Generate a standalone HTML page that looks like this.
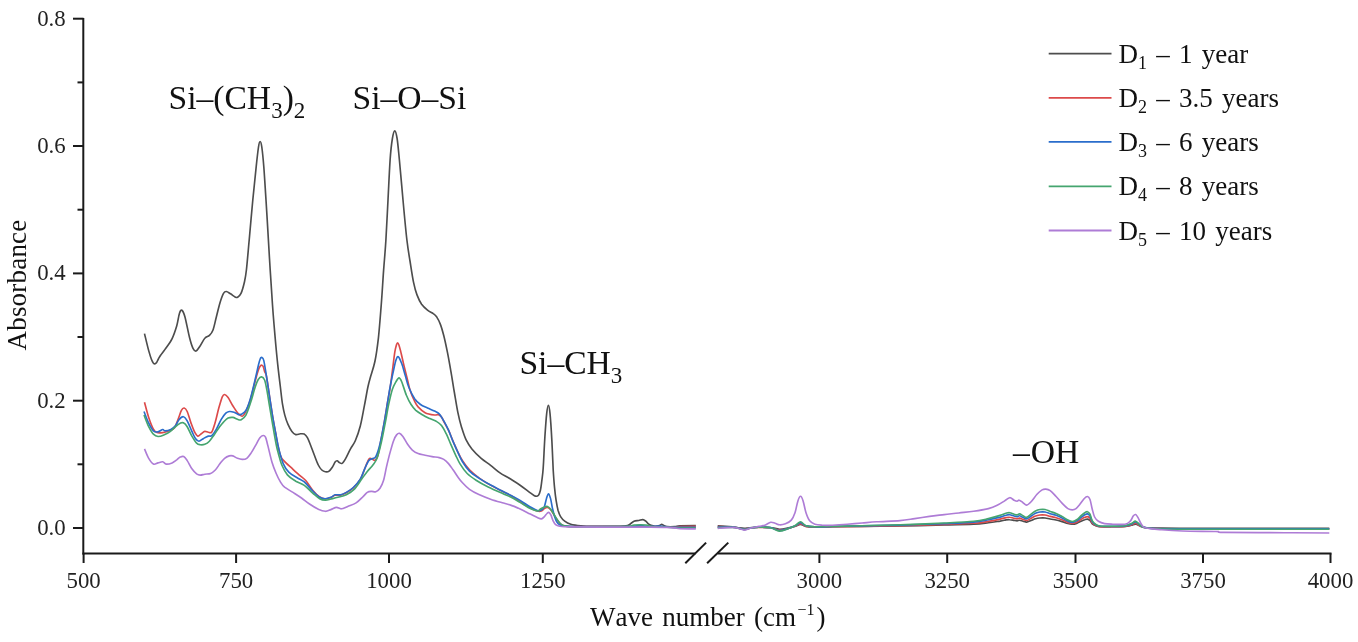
<!DOCTYPE html>
<html><head><meta charset="utf-8"><title>FTIR absorbance</title>
<style>
html,body{margin:0;padding:0;background:#fff;}
body{width:1358px;height:642px;overflow:hidden;}
svg{display:block;will-change:transform;font-family:"Liberation Serif",serif;font-kerning:none;}
.curves path{fill:none;stroke-width:1.65;stroke-linejoin:round;stroke-linecap:butt;}
.axes line{stroke:#1a1a1a;stroke-width:2;}
.tick text{font-size:22.8px;fill:#222;}
.ann text{font-size:33.6px;fill:#111;}
.leg text,.ttl text{font-size:27px;fill:#111;word-spacing:2.5px;}
</style></head><body>
<svg width="1358" height="642" viewBox="0 0 1358 642">
<rect width="1358" height="642" fill="#ffffff"/>
<g class="curves">
<path d="M144.5 333.6C145.2 336.4 147.5 346.3 148.7 350.6C149.9 354.9 150.7 357.4 151.5 359.5C152.3 361.6 152.8 362.3 153.3 363.0C153.9 363.7 154.3 363.9 154.8 363.9C155.3 363.9 155.8 363.6 156.4 362.8C157.0 362.0 157.7 360.2 158.4 359.0C159.1 357.8 159.5 356.9 160.6 355.3C161.7 353.7 163.1 352.1 165.0 349.4C166.9 346.7 170.1 342.8 172.0 338.9C173.9 335.0 175.4 330.3 176.7 326.0C177.9 321.7 178.6 315.8 179.5 313.2C180.4 310.6 181.0 309.6 181.9 310.2C182.8 310.8 183.6 312.1 184.9 316.7C186.2 321.3 188.2 332.5 189.6 337.8C190.9 343.1 191.9 346.1 193.0 348.3C194.1 350.5 194.9 351.4 196.1 351.0C197.3 350.6 198.6 348.0 200.1 345.9C201.6 343.8 203.2 339.9 204.8 338.2C206.4 336.4 208.1 336.7 209.4 335.4C210.8 334.1 211.7 333.4 212.9 330.3C214.1 327.2 215.2 321.3 216.4 316.7C217.6 312.1 218.8 306.6 220.0 302.7C221.2 298.8 222.4 295.3 223.5 293.4C224.6 291.5 225.1 291.4 226.3 291.5C227.5 291.6 229.0 292.9 230.5 293.8C232.0 294.7 233.9 296.3 235.1 296.9C236.3 297.5 236.5 297.9 237.5 297.3C238.5 296.7 239.8 296.0 241.0 293.4C242.2 290.8 243.6 285.6 244.5 281.7C245.4 277.8 245.6 276.9 246.4 270.0C247.2 263.1 248.1 251.7 249.2 240.0C250.3 228.3 251.6 212.2 252.8 200.0C254.0 187.8 255.2 175.5 256.2 166.7C257.1 157.9 257.9 151.2 258.5 147.0C259.1 142.8 259.6 141.5 260.1 141.5C260.7 141.5 261.2 142.8 261.8 147.0C262.4 151.2 263.1 157.9 263.8 166.7C264.5 175.5 265.2 187.8 266.0 200.0C266.8 212.2 267.7 228.3 268.4 240.0C269.1 251.7 269.5 259.2 270.2 270.0C270.9 280.8 271.6 292.5 272.5 305.0C273.4 317.5 274.9 335.0 275.8 345.0C276.7 355.0 277.1 358.4 277.8 365.2C278.5 371.9 279.4 379.0 280.2 385.5C281.0 392.0 281.7 399.3 282.5 404.2C283.3 409.1 283.9 411.7 284.8 415.1C285.7 418.5 286.8 421.7 288.0 424.4C289.2 427.1 290.6 429.8 291.9 431.5C293.2 433.2 294.3 434.2 295.7 434.6C297.1 435.0 299.0 433.9 300.4 433.8C301.8 433.7 303.1 433.5 304.3 434.1C305.5 434.8 306.4 435.9 307.4 437.7C308.4 439.5 309.4 442.2 310.5 445.0C311.6 447.8 312.8 451.2 314.1 454.5C315.4 457.8 317.0 462.4 318.3 465.0C319.6 467.6 320.6 468.9 321.8 470.0C323.0 471.1 324.1 471.6 325.3 471.8C326.5 472.0 327.6 472.2 328.8 471.4C330.0 470.6 331.2 468.8 332.3 467.2C333.4 465.6 334.3 463.1 335.1 462.0C335.9 460.9 336.5 460.7 337.2 460.8C337.9 460.9 338.5 462.1 339.3 462.5C340.1 462.9 341.1 464.0 342.1 463.4C343.2 462.8 344.2 461.1 345.6 458.7C347.0 456.3 348.9 451.9 350.5 448.9C352.1 445.9 353.8 444.3 355.4 440.5C357.0 436.7 358.8 431.8 360.3 426.0C361.8 420.2 363.1 412.2 364.4 405.7C365.7 399.2 366.9 391.6 367.9 387.0C368.9 382.4 369.0 382.1 370.2 377.9C371.4 373.6 373.5 368.1 374.9 361.5C376.3 354.9 377.3 347.5 378.4 338.1C379.4 328.8 380.3 316.7 381.2 305.4C382.1 294.1 382.8 281.3 383.6 270.4C384.4 259.5 385.2 251.7 385.9 240.0C386.6 228.3 387.3 213.3 388.0 200.0C388.7 186.7 389.4 170.2 390.1 160.0C390.8 149.8 391.6 143.4 392.4 138.5C393.2 133.6 394.0 130.8 394.8 130.8C395.6 130.8 396.3 133.6 397.1 138.5C397.9 143.4 398.4 149.8 399.4 160.0C400.4 170.2 401.8 186.7 403.0 200.0C404.2 213.3 405.7 229.8 406.9 240.0C408.1 250.2 408.9 254.0 410.0 261.0C411.1 268.0 412.3 276.5 413.5 282.1C414.7 287.8 415.6 291.2 417.0 294.9C418.4 298.6 419.9 301.8 421.6 304.3C423.4 306.8 425.6 308.6 427.5 310.1C429.4 311.7 431.8 312.4 433.3 313.6C434.9 314.8 435.6 315.4 436.8 317.1C438.0 318.9 439.1 321.0 440.3 324.1C441.5 327.2 442.6 331.1 443.8 335.8C445.0 340.5 446.2 346.3 447.4 352.1C448.6 357.9 449.6 364.2 450.8 370.8C452.0 377.4 453.1 385.0 454.3 392.0C455.5 399.0 456.7 406.9 457.9 412.7C459.1 418.5 460.0 422.2 461.4 426.7C462.8 431.2 464.2 435.9 466.0 439.6C467.8 443.3 469.4 445.8 471.9 448.9C474.4 452.0 478.1 455.6 481.2 458.3C484.3 461.0 487.5 462.9 490.6 465.3C493.7 467.7 496.9 470.7 500.0 472.9C503.1 475.1 505.9 476.2 509.3 478.3C512.6 480.4 516.6 482.8 520.1 485.2C523.6 487.6 527.8 491.0 530.3 492.8C532.8 494.6 533.9 495.7 535.3 496.1C536.7 496.5 537.6 496.3 538.5 495.3C539.4 494.3 539.8 492.8 540.4 490.3C541.0 487.8 541.4 483.8 541.9 480.1C542.4 476.4 542.7 475.2 543.2 468.0C543.7 460.8 544.3 445.8 544.9 436.7C545.5 427.6 546.1 418.6 546.7 413.4C547.3 408.1 547.9 405.2 548.4 405.2C548.9 405.2 549.4 407.4 550.0 413.4C550.6 419.4 551.4 432.0 551.9 441.4C552.4 450.8 552.8 462.2 553.2 470.0C553.7 477.8 554.1 483.1 554.6 488.2C555.1 493.3 555.5 496.7 556.1 500.4C556.7 504.1 557.4 507.8 558.1 510.5C558.9 513.2 559.5 514.8 560.6 516.6C561.7 518.4 563.0 519.8 564.7 521.1C566.4 522.4 568.1 523.4 570.8 524.2C573.5 525.0 577.1 525.4 580.9 525.7C584.7 526.1 587.5 526.2 593.5 526.3C599.5 526.4 611.4 526.4 616.8 526.3C622.2 526.2 623.9 526.1 626.0 525.8C628.1 525.5 627.9 525.5 629.2 524.7C630.5 524.0 632.4 522.0 634.0 521.3C635.6 520.6 637.3 520.8 638.8 520.5C640.3 520.2 641.6 519.5 642.8 519.6C644.0 519.7 644.9 520.5 645.8 521.2C646.7 521.9 647.5 523.2 648.4 523.9C649.3 524.6 649.9 525.0 651.0 525.4C652.1 525.8 653.6 526.2 655.0 526.2C656.4 526.2 658.4 525.9 659.5 525.6C660.6 525.3 661.0 524.4 661.7 524.4C662.4 524.4 662.9 525.2 663.8 525.6C664.7 526.0 665.1 526.4 667.0 526.6C668.9 526.8 672.8 526.7 675.0 526.6C677.2 526.5 676.5 526.0 680.0 525.8C683.5 525.6 693.2 525.6 695.8 525.6" stroke="#4d4d4d"/>
<path d="M717.7 525.8C720.2 526.0 729.0 526.6 732.4 526.9C735.8 527.2 736.3 527.5 738.3 527.7C740.3 528.0 742.2 528.4 744.2 528.4C746.2 528.4 747.5 527.9 750.0 527.7C752.5 527.5 755.4 527.2 758.9 527.1C762.4 527.1 767.3 527.1 770.7 527.5C774.1 527.8 776.5 529.2 779.5 529.2C782.5 529.3 785.7 528.4 788.4 527.9C791.1 527.4 793.7 526.7 795.7 526.2C797.7 525.6 798.9 524.3 800.6 524.4C802.3 524.4 803.6 526.0 806.0 526.4C808.4 526.8 810.5 526.9 814.9 526.9C819.3 527.0 824.6 526.9 832.5 526.8C840.4 526.7 850.8 526.6 862.0 526.4C873.2 526.3 886.3 526.2 900.0 526.0C913.7 525.7 931.9 525.3 944.2 525.0C956.5 524.7 966.2 524.5 973.6 524.1C981.0 523.8 984.0 523.2 988.4 522.7C992.8 522.2 997.2 521.5 1000.1 521.1C1003.0 520.6 1004.4 520.2 1006.0 519.9C1007.6 519.7 1008.4 519.6 1009.7 519.7C1011.1 519.7 1012.9 520.2 1014.1 520.4C1015.3 520.6 1016.2 520.8 1017.1 520.8C1018.0 520.8 1018.6 520.2 1019.6 520.3C1020.6 520.4 1021.8 520.9 1023.0 521.2C1024.2 521.5 1025.4 522.2 1026.7 522.1C1028.0 522.0 1029.6 521.0 1031.1 520.4C1032.6 519.9 1034.0 519.1 1035.5 518.7C1037.0 518.3 1038.3 518.1 1039.9 518.0C1041.5 517.9 1043.4 517.8 1045.1 518.0C1046.8 518.2 1048.4 518.7 1050.2 519.0C1052.0 519.4 1054.1 519.6 1056.1 520.0C1058.1 520.4 1060.0 521.0 1062.0 521.6C1064.0 522.2 1066.2 523.1 1067.9 523.5C1069.6 524.0 1070.8 524.3 1072.3 524.2C1073.8 524.2 1075.2 523.9 1076.7 523.4C1078.2 522.8 1079.8 521.8 1081.1 521.2C1082.4 520.6 1083.7 520.0 1084.8 519.7C1085.9 519.3 1086.6 519.0 1087.5 519.1C1088.4 519.3 1089.2 519.7 1090.0 520.4C1090.8 521.2 1091.3 523.0 1092.3 523.9C1093.3 524.8 1094.6 525.3 1095.9 525.8C1097.2 526.2 1097.5 526.4 1100.0 526.6C1102.5 526.7 1106.5 526.8 1110.7 526.7C1114.9 526.7 1121.6 526.7 1125.0 526.4C1128.4 526.2 1129.4 525.7 1131.2 525.3C1133.0 524.9 1134.2 523.9 1135.7 524.1C1137.2 524.2 1138.8 525.6 1140.4 526.2C1142.0 526.8 1141.9 527.1 1145.5 527.5C1149.1 527.8 1152.4 528.0 1161.9 528.1C1171.5 528.3 1174.9 528.2 1202.8 528.2C1230.7 528.3 1308.2 528.2 1329.3 528.2" stroke="#4d4d4d"/>
<path d="M144.5 402.2C145.2 404.7 147.2 412.9 148.7 417.4C150.2 421.9 152.0 426.6 153.4 429.1C154.8 431.6 155.4 432.0 156.9 432.6C158.4 433.2 160.8 432.9 162.7 432.6C164.6 432.3 166.6 431.7 168.6 430.9C170.6 430.1 172.8 429.8 174.4 427.9C176.0 426.0 176.7 422.6 177.9 419.7C179.1 416.8 180.4 412.3 181.4 410.4C182.4 408.4 183.2 407.8 184.2 408.0C185.2 408.2 186.1 409.1 187.2 411.5C188.3 413.9 189.5 418.8 190.7 422.1C191.9 425.4 193.1 429.1 194.3 431.4C195.5 433.7 196.6 435.7 197.8 436.1C199.0 436.5 200.1 434.5 201.3 433.7C202.5 432.9 203.6 431.6 204.8 431.4C206.0 431.2 207.1 432.2 208.3 432.3C209.5 432.4 210.6 433.6 211.8 431.9C213.0 430.2 214.1 426.1 215.3 422.1C216.5 418.1 217.6 412.2 218.8 408.0C220.0 403.8 221.3 399.1 222.3 396.8C223.3 394.6 223.6 394.4 224.6 394.5C225.6 394.6 226.7 395.6 228.1 397.5C229.5 399.4 231.2 403.2 232.8 405.7C234.4 408.2 235.9 410.9 237.5 412.7C239.1 414.4 240.7 416.4 242.1 416.2C243.5 416.0 244.5 414.4 245.9 411.5C247.3 408.6 249.1 404.1 250.6 399.0C252.1 393.9 253.9 385.9 255.2 381.0C256.5 376.1 257.5 372.4 258.4 369.9C259.3 367.4 259.8 366.8 260.4 366.0C261.0 365.2 261.3 365.1 261.8 365.2C262.3 365.3 262.7 365.4 263.2 366.5C263.7 367.6 264.1 369.9 264.6 371.5C265.1 373.1 265.6 372.1 266.4 376.0C267.2 379.9 268.3 388.3 269.3 394.8C270.3 401.3 271.4 408.9 272.4 415.1C273.4 421.3 274.6 427.2 275.5 432.2C276.4 437.2 277.1 441.4 277.8 445.0C278.6 448.6 279.1 451.5 280.0 454.0C280.9 456.5 281.0 457.6 283.2 460.1C285.4 462.7 290.2 466.7 293.0 469.3C295.8 471.9 297.9 473.7 300.0 475.6C302.1 477.5 303.6 478.1 305.7 480.5C307.8 482.9 310.4 487.6 312.7 490.3C315.0 493.1 317.6 495.6 319.7 497.0C321.8 498.4 323.4 498.9 325.3 499.0C327.2 499.1 329.3 498.1 330.9 497.5C332.5 496.9 333.5 495.6 335.1 495.2C336.7 494.8 338.8 495.6 340.7 495.2C342.6 494.8 344.2 494.0 346.3 492.8C348.4 491.6 351.0 490.1 353.3 487.9C355.6 485.7 358.4 482.6 360.3 479.5C362.2 476.4 363.1 472.7 364.5 469.3C365.9 465.9 367.5 461.2 368.7 459.4C369.9 457.6 370.5 458.5 371.6 458.7C372.7 458.9 374.0 460.9 375.1 460.3C376.2 459.7 377.1 458.1 378.0 455.0C378.9 451.9 379.6 447.0 380.7 441.5C381.8 436.0 383.1 428.9 384.3 422.1C385.5 415.4 386.8 406.7 387.8 401.0C388.8 395.3 389.3 393.0 390.1 388.0C390.9 383.0 391.6 376.8 392.4 370.8C393.2 364.8 394.1 356.4 394.8 352.1C395.5 347.8 395.9 346.6 396.4 345.0C396.9 343.4 397.2 342.8 397.6 342.8C398.0 342.8 398.4 343.6 398.9 345.0C399.4 346.4 399.7 347.5 400.6 351.0C401.5 354.5 402.9 361.3 404.1 366.2C405.3 371.1 406.6 376.2 407.6 380.2C408.6 384.2 408.9 386.7 410.0 390.0C411.1 393.3 412.6 397.2 414.0 400.0C415.4 402.8 416.2 404.8 418.1 406.9C420.0 409.0 422.4 411.3 425.1 412.7C427.8 414.1 432.3 414.7 434.5 415.0C436.7 415.3 437.3 414.3 438.5 414.6C439.7 414.9 440.6 415.9 441.5 417.0C442.4 418.1 442.6 419.3 443.8 421.5C445.0 423.7 446.9 426.9 448.5 430.2C450.1 433.5 451.6 437.9 453.2 441.5C454.8 445.1 456.3 448.8 457.9 452.0C459.4 455.2 460.6 457.8 462.5 460.8C464.4 463.8 466.8 467.0 469.5 469.8C472.2 472.6 475.4 475.2 478.9 477.8C482.4 480.4 486.7 482.9 490.6 485.1C494.5 487.3 498.7 489.4 502.2 491.2C505.7 493.0 508.6 494.2 511.6 496.0C514.6 497.8 517.0 499.8 520.1 501.8C523.2 503.8 527.4 506.5 530.3 508.0C533.2 509.5 535.4 510.5 537.3 511.0C539.1 511.5 540.2 511.4 541.4 511.0C542.6 510.6 543.4 509.1 544.4 508.5C545.4 507.9 546.5 507.3 547.5 507.5C548.5 507.7 549.5 508.4 550.5 509.5C551.5 510.6 552.5 512.4 553.5 514.0C554.5 515.6 555.6 517.5 556.6 519.0C557.6 520.5 558.6 521.9 559.6 523.0C560.6 524.1 561.0 524.8 562.7 525.4C564.4 526.0 563.8 526.3 570.0 526.5C576.2 526.7 586.7 526.5 600.0 526.5C613.3 526.5 638.8 526.5 650.0 526.5C661.2 526.5 662.8 526.7 667.0 526.8C671.2 526.9 672.8 527.2 675.0 527.2C677.2 527.2 676.5 526.7 680.0 526.6C683.5 526.5 693.2 526.4 695.8 526.4" stroke="#DC4A4A"/>
<path d="M717.7 526.6C720.2 526.7 729.0 526.9 732.4 527.2C735.8 527.4 736.3 527.8 738.3 528.1C740.3 528.4 742.2 529.1 744.2 529.1C746.2 529.1 747.5 528.4 750.0 528.1C752.5 527.8 755.4 527.4 758.9 527.3C762.4 527.3 767.3 527.3 770.7 527.8C774.1 528.2 776.5 530.0 779.5 530.1C782.5 530.2 785.7 529.1 788.4 528.4C791.1 527.7 793.7 526.8 795.7 526.0C797.7 525.2 798.9 523.6 800.6 523.6C802.3 523.7 803.6 525.8 806.0 526.4C808.4 526.9 810.5 527.0 814.9 527.1C819.3 527.1 824.6 527.0 832.5 526.8C840.4 526.7 850.8 526.5 862.0 526.4C873.2 526.2 886.3 526.0 900.0 525.7C913.7 525.4 931.9 524.9 944.2 524.5C956.5 524.1 966.2 523.8 973.6 523.3C981.0 522.8 984.0 522.1 988.4 521.4C992.8 520.7 997.2 519.8 1000.1 519.1C1003.0 518.5 1004.4 517.9 1006.0 517.6C1007.6 517.3 1008.4 517.1 1009.7 517.3C1011.1 517.4 1012.9 518.0 1014.1 518.3C1015.3 518.6 1016.2 518.8 1017.1 518.8C1018.0 518.8 1018.6 518.0 1019.6 518.1C1020.6 518.2 1021.8 518.9 1023.0 519.4C1024.2 519.8 1025.4 520.7 1026.7 520.5C1028.0 520.4 1029.6 519.1 1031.1 518.3C1032.6 517.5 1034.0 516.5 1035.5 516.0C1037.0 515.4 1038.3 515.2 1039.9 515.0C1041.5 514.8 1043.4 514.8 1045.1 515.0C1046.8 515.2 1048.4 516.0 1050.2 516.4C1052.0 516.9 1054.1 517.2 1056.1 517.7C1058.1 518.3 1060.0 519.1 1062.0 519.8C1064.0 520.6 1066.2 521.8 1067.9 522.4C1069.6 523.0 1070.8 523.4 1072.3 523.4C1073.8 523.4 1075.2 522.9 1076.7 522.2C1078.2 521.5 1079.8 520.2 1081.1 519.4C1082.4 518.5 1083.7 517.7 1084.8 517.3C1085.9 516.8 1086.6 516.4 1087.5 516.6C1088.4 516.7 1089.2 517.2 1090.0 518.3C1090.8 519.4 1091.3 521.7 1092.3 522.9C1093.3 524.1 1094.6 524.9 1095.9 525.5C1097.2 526.1 1097.5 526.4 1100.0 526.6C1102.5 526.8 1106.5 526.8 1110.7 526.8C1114.9 526.7 1121.6 526.7 1125.0 526.4C1128.4 526.0 1129.4 525.4 1131.2 524.9C1133.0 524.4 1134.2 523.0 1135.7 523.2C1137.2 523.4 1138.8 525.3 1140.4 526.1C1142.0 526.8 1141.9 527.3 1145.5 527.8C1149.1 528.2 1152.4 528.5 1161.9 528.7C1171.5 528.8 1174.9 528.8 1202.8 528.8C1230.7 528.8 1308.2 528.8 1329.3 528.8" stroke="#DC4A4A"/>
<path d="M144.0 411.5C144.8 413.4 147.1 420.0 148.7 423.2C150.3 426.4 151.8 429.4 153.4 430.9C155.0 432.3 156.4 432.1 158.0 431.9C159.6 431.7 161.5 429.7 162.7 429.5C163.9 429.3 163.6 430.9 165.0 430.9C166.4 430.9 169.1 430.4 170.9 429.5C172.7 428.6 174.2 427.2 175.6 425.6C176.9 424.0 177.7 421.2 179.0 419.7C180.3 418.2 181.9 416.5 183.3 416.7C184.7 416.9 185.8 418.4 187.2 420.9C188.6 423.3 190.5 428.5 191.9 431.4C193.3 434.3 194.2 436.8 195.4 438.4C196.6 440.0 197.5 441.2 198.9 441.2C200.3 441.2 202.0 439.2 203.6 438.4C205.2 437.5 206.9 436.6 208.3 436.1C209.7 435.6 210.5 436.8 211.8 435.6C213.2 434.4 214.9 431.8 216.4 429.1C217.9 426.5 219.5 422.4 221.1 419.7C222.7 417.0 224.4 414.6 225.8 413.2C227.2 411.8 227.9 411.7 229.3 411.5C230.7 411.3 232.4 411.7 234.0 412.2C235.6 412.7 237.4 414.2 238.6 414.6C239.8 415.0 240.0 415.0 241.2 414.3C242.4 413.6 244.3 413.1 245.9 410.4C247.5 407.7 249.1 403.2 250.6 398.0C252.1 392.8 253.9 384.8 255.2 379.3C256.5 373.8 257.6 368.6 258.4 365.2C259.2 361.8 259.6 360.3 260.2 359.0C260.8 357.7 261.2 357.2 261.8 357.5C262.4 357.8 263.1 357.8 263.8 360.6C264.5 363.5 265.3 368.9 266.2 374.6C267.1 380.3 268.3 388.1 269.3 394.8C270.3 401.6 271.4 408.9 272.4 415.1C273.4 421.3 274.4 426.4 275.5 432.2C276.6 437.9 277.7 444.4 279.0 449.6C280.3 454.8 281.6 459.9 283.2 463.6C284.8 467.4 286.5 469.8 288.8 472.1C291.1 474.5 294.6 476.1 297.2 477.7C299.8 479.3 301.7 479.7 304.3 481.9C306.9 484.1 310.1 488.4 312.7 491.0C315.3 493.6 317.6 496.0 319.7 497.3C321.8 498.6 323.4 498.7 325.3 498.7C327.2 498.7 329.3 497.9 330.9 497.3C332.5 496.7 333.5 495.2 335.1 494.8C336.7 494.4 338.8 495.2 340.7 494.8C342.6 494.4 344.2 493.6 346.3 492.4C348.4 491.2 351.0 489.7 353.3 487.5C355.6 485.3 358.4 482.1 360.3 479.1C362.2 476.1 363.1 472.4 364.5 469.3C365.9 466.2 367.4 462.6 368.7 460.8C370.0 459.0 371.0 459.4 372.2 458.7C373.4 458.0 374.5 459.1 375.8 456.6C377.1 454.2 378.6 449.8 380.0 444.0C381.4 438.2 383.0 429.3 384.3 422.1C385.6 414.9 386.8 406.9 387.8 401.0C388.8 395.1 389.2 391.6 390.1 387.0C391.0 382.4 391.9 377.6 392.9 373.2C393.9 368.8 395.0 363.0 395.9 360.3C396.8 357.6 397.3 356.2 398.3 356.8C399.3 357.4 400.6 360.7 401.8 363.8C403.0 366.9 404.1 371.6 405.3 375.5C406.5 379.4 407.2 383.3 408.8 387.2C410.4 391.1 412.7 395.8 414.6 398.7C416.6 401.6 418.4 402.9 420.5 404.5C422.6 406.1 425.2 406.9 427.5 408.0C429.8 409.1 432.6 410.1 434.5 411.1C436.4 412.1 437.6 412.3 439.2 413.9C440.8 415.5 442.2 418.2 443.8 420.9C445.4 423.6 446.9 426.7 448.5 430.2C450.1 433.7 451.6 438.2 453.2 441.9C454.8 445.6 456.3 449.1 457.9 452.4C459.4 455.7 460.6 458.7 462.5 461.8C464.4 464.9 466.8 468.4 469.5 471.1C472.2 473.8 475.4 475.8 478.9 478.1C482.4 480.4 486.7 483.0 490.6 485.1C494.5 487.2 498.7 489.2 502.2 491.0C505.7 492.8 508.6 494.1 511.6 495.7C514.6 497.3 517.0 498.5 520.1 500.4C523.2 502.3 527.4 505.3 530.3 507.0C533.2 508.7 535.4 510.0 537.3 510.5C539.1 511.0 540.2 510.7 541.4 510.0C542.6 509.3 543.5 508.4 544.4 506.5C545.2 504.6 545.8 500.5 546.5 498.4C547.2 496.3 547.8 493.8 548.5 493.8C549.2 493.8 549.8 495.9 550.5 498.4C551.2 500.8 551.8 505.5 552.5 508.5C553.2 511.5 553.9 514.4 554.6 516.6C555.3 518.8 555.8 520.2 556.6 521.6C557.4 523.0 558.2 524.0 559.6 524.7C561.0 525.4 562.1 525.6 564.7 525.9C567.3 526.2 569.1 526.4 575.0 526.5C580.9 526.6 590.5 526.6 600.0 526.6C609.5 526.6 625.3 526.6 632.0 526.4C638.7 526.2 637.5 525.3 640.0 525.3C642.5 525.3 643.4 526.2 647.0 526.4C650.6 526.5 658.4 526.1 661.7 526.2C665.0 526.3 664.8 526.8 667.0 527.0C669.2 527.2 672.8 527.4 675.0 527.4C677.2 527.4 676.5 527.2 680.0 527.2C683.5 527.2 693.2 527.2 695.8 527.2" stroke="#2A6DCB"/>
<path d="M717.7 527.1C720.2 527.1 729.0 527.0 732.4 527.1C735.8 527.3 736.3 527.7 738.3 528.1C740.3 528.4 742.2 529.3 744.2 529.3C746.2 529.3 747.5 528.4 750.0 528.1C752.5 527.7 755.4 527.2 758.9 527.1C762.4 527.0 767.3 527.1 770.7 527.6C774.1 528.2 776.5 530.4 779.5 530.6C782.5 530.7 785.7 529.2 788.4 528.4C791.1 527.6 793.7 526.5 795.7 525.5C797.7 524.5 798.9 522.5 800.6 522.6C802.3 522.6 803.6 525.2 806.0 525.9C808.4 526.6 810.5 526.7 814.9 526.8C819.3 526.9 824.6 526.7 832.5 526.5C840.4 526.4 850.8 526.1 862.0 525.9C873.2 525.7 886.3 525.5 900.0 525.1C913.7 524.7 931.9 524.1 944.2 523.6C956.5 523.1 966.2 522.8 973.6 522.1C981.0 521.5 984.0 520.6 988.4 519.8C992.8 519.0 997.2 517.8 1000.1 517.1C1003.0 516.3 1004.4 515.5 1006.0 515.2C1007.6 514.8 1008.4 514.6 1009.7 514.7C1011.1 514.9 1012.9 515.7 1014.1 516.0C1015.3 516.3 1016.2 516.7 1017.1 516.6C1018.0 516.6 1018.6 515.6 1019.6 515.8C1020.6 515.9 1021.8 516.8 1023.0 517.3C1024.2 517.8 1025.4 519.0 1026.7 518.8C1028.0 518.6 1029.6 517.0 1031.1 516.0C1032.6 515.1 1034.0 513.9 1035.5 513.2C1037.0 512.5 1038.3 512.2 1039.9 512.0C1041.5 511.8 1043.4 511.7 1045.1 512.0C1046.8 512.3 1048.4 513.1 1050.2 513.7C1052.0 514.3 1054.1 514.6 1056.1 515.3C1058.1 516.0 1060.0 517.0 1062.0 517.9C1064.0 518.9 1066.2 520.4 1067.9 521.1C1069.6 521.8 1070.8 522.3 1072.3 522.3C1073.8 522.3 1075.2 521.7 1076.7 520.8C1078.2 520.0 1079.8 518.3 1081.1 517.3C1082.4 516.3 1083.7 515.3 1084.8 514.7C1085.9 514.2 1086.6 513.7 1087.5 513.9C1088.4 514.1 1089.2 514.7 1090.0 516.0C1090.8 517.3 1091.3 520.2 1092.3 521.7C1093.3 523.2 1094.6 524.1 1095.9 524.9C1097.2 525.6 1097.5 525.9 1100.0 526.2C1102.5 526.4 1106.5 526.5 1110.7 526.4C1114.9 526.4 1121.6 526.3 1125.0 525.9C1128.4 525.5 1129.4 524.7 1131.2 524.1C1133.0 523.5 1134.2 521.8 1135.7 522.0C1137.2 522.3 1138.8 524.6 1140.4 525.6C1142.0 526.5 1141.9 527.1 1145.5 527.6C1149.1 528.2 1152.4 528.5 1161.9 528.7C1171.5 529.0 1174.9 528.9 1202.8 528.9C1230.7 528.9 1308.2 528.9 1329.3 528.9" stroke="#2A6DCB"/>
<path d="M144.0 415.0C144.8 416.9 147.1 423.5 148.7 426.7C150.3 429.9 151.8 432.6 153.4 434.2C155.0 435.8 156.2 436.4 158.0 436.5C159.8 436.6 162.0 435.7 163.9 434.9C165.8 434.1 167.8 433.3 169.7 431.9C171.6 430.5 173.8 428.1 175.6 426.7C177.3 425.2 178.9 423.8 180.2 423.2C181.5 422.6 182.1 422.2 183.3 422.8C184.5 423.4 185.8 424.5 187.2 426.7C188.6 428.9 190.3 433.4 191.9 436.1C193.5 438.8 195.2 441.7 196.6 443.1C198.0 444.5 198.7 444.5 200.1 444.7C201.5 444.9 203.2 444.9 204.8 444.3C206.4 443.7 207.9 442.8 209.4 441.2C210.9 439.6 212.5 437.1 214.1 434.9C215.7 432.7 217.2 430.0 218.8 427.9C220.4 425.8 221.9 423.7 223.5 422.1C225.1 420.5 226.5 418.9 228.1 418.1C229.7 417.3 231.2 417.2 232.8 417.4C234.4 417.6 236.1 418.9 237.5 419.3C238.9 419.7 239.8 420.5 241.2 419.8C242.6 419.1 244.3 418.0 245.9 415.1C247.5 412.2 249.1 407.3 250.6 402.6C252.1 397.9 253.9 391.0 255.2 387.1C256.5 383.2 257.3 381.0 258.4 379.3C259.4 377.6 260.5 376.8 261.5 376.9C262.5 377.0 263.7 377.8 264.6 380.0C265.5 382.2 266.0 385.4 266.9 390.2C267.8 395.0 268.9 402.7 270.0 408.9C271.1 415.1 272.1 421.6 273.2 427.6C274.2 433.6 275.4 440.6 276.3 445.0C277.2 449.4 277.6 450.7 278.5 454.0C279.4 457.3 280.3 461.5 281.8 465.0C283.3 468.5 285.1 472.2 287.4 474.9C289.7 477.6 293.0 479.4 295.8 481.2C298.6 482.9 301.5 483.4 304.3 485.4C307.1 487.4 310.1 490.9 312.7 493.1C315.3 495.3 317.6 497.5 319.7 498.7C321.8 499.9 323.4 500.1 325.3 500.1C327.2 500.2 328.8 499.5 330.9 499.0C333.0 498.5 335.3 498.0 337.9 497.3C340.5 496.6 343.5 496.2 346.3 494.8C349.1 493.4 352.1 491.5 354.7 488.9C357.3 486.3 359.6 482.0 361.7 479.1C363.8 476.2 365.4 473.8 367.3 471.4C369.2 469.0 371.3 467.2 372.9 465.0C374.5 462.8 375.7 461.8 377.1 458.0C378.5 454.2 380.0 448.0 381.4 442.0C382.8 436.0 384.1 428.5 385.4 422.1C386.6 415.7 387.7 408.9 388.9 403.4C390.1 397.9 391.2 392.9 392.4 389.3C393.6 385.7 394.8 383.8 395.9 381.9C397.0 380.0 398.0 377.9 399.0 377.9C400.0 377.9 400.6 379.1 401.8 382.0C403.0 384.9 404.8 391.4 406.4 395.2C407.9 398.9 409.5 402.0 411.1 404.5C412.7 407.0 413.9 408.6 415.8 410.4C417.8 412.1 420.5 413.6 422.8 415.0C425.1 416.4 427.5 417.5 429.8 418.6C432.1 419.7 434.9 420.4 436.8 421.6C438.8 422.8 439.9 423.6 441.5 425.6C443.1 427.6 444.6 430.6 446.2 433.7C447.8 436.8 449.2 440.8 450.8 444.3C452.4 447.8 453.9 451.5 455.5 454.8C457.1 458.1 458.2 461.0 460.2 464.1C462.1 467.2 464.5 470.8 467.2 473.5C469.9 476.2 473.0 478.2 476.5 480.5C480.0 482.8 483.9 484.9 488.2 487.0C492.5 489.1 498.3 491.6 502.2 493.3C506.1 495.1 508.6 496.0 511.6 497.5C514.6 499.0 517.0 500.6 520.1 502.4C523.2 504.2 527.4 507.1 530.3 508.5C533.2 509.9 535.6 510.9 537.3 511.0C539.0 511.1 539.2 509.7 540.4 509.0C541.6 508.3 543.2 507.4 544.4 507.0C545.6 506.6 546.5 506.2 547.5 506.5C548.5 506.8 549.5 507.8 550.5 509.0C551.5 510.2 552.5 511.9 553.5 513.5C554.5 515.1 555.6 517.1 556.6 518.6C557.6 520.1 558.6 521.6 559.6 522.7C560.6 523.8 561.0 524.6 562.7 525.2C564.4 525.9 563.8 526.3 570.0 526.6C576.2 526.9 590.3 526.8 600.0 526.8C609.7 526.8 622.3 526.7 628.0 526.4C633.7 526.1 631.0 525.2 634.0 525.0C637.0 524.8 643.0 524.7 646.0 525.0C649.0 525.3 648.5 526.2 652.0 526.6C655.5 527.0 663.2 527.0 667.0 527.2C670.8 527.4 672.8 527.5 675.0 527.6C677.2 527.7 676.5 527.9 680.0 528.0C683.5 528.1 693.2 528.0 695.8 528.0" stroke="#45A56F"/>
<path d="M717.7 527.8C720.2 527.7 729.0 527.2 732.4 527.2C735.8 527.3 736.3 527.8 738.3 528.2C740.3 528.6 742.2 529.6 744.2 529.6C746.2 529.6 747.5 528.6 750.0 528.2C752.5 527.8 755.4 527.2 758.9 527.1C762.4 527.0 767.3 527.0 770.7 527.7C774.1 528.4 776.5 531.0 779.5 531.1C782.5 531.2 785.7 529.6 788.4 528.6C791.1 527.6 793.7 526.3 795.7 525.2C797.7 524.1 798.9 521.7 800.6 521.8C802.3 521.9 803.6 524.9 806.0 525.7C808.4 526.5 810.5 526.6 814.9 526.7C819.3 526.8 824.6 526.6 832.5 526.4C840.4 526.2 850.8 526.0 862.0 525.7C873.2 525.4 886.3 525.2 900.0 524.8C913.7 524.3 931.9 523.6 944.2 523.0C956.5 522.4 966.2 522.0 973.6 521.3C981.0 520.6 984.0 519.6 988.4 518.6C992.8 517.6 997.2 516.3 1000.1 515.4C1003.0 514.5 1004.4 513.7 1006.0 513.2C1007.6 512.8 1008.4 512.5 1009.7 512.7C1011.1 512.9 1012.9 513.8 1014.1 514.2C1015.3 514.6 1016.2 515.0 1017.1 514.9C1018.0 514.8 1018.6 513.8 1019.6 513.9C1020.6 514.0 1021.8 515.1 1023.0 515.7C1024.2 516.3 1025.4 517.6 1026.7 517.4C1028.0 517.1 1029.6 515.3 1031.1 514.2C1032.6 513.1 1034.0 511.7 1035.5 510.9C1037.0 510.1 1038.3 509.7 1039.9 509.5C1041.5 509.3 1043.4 509.2 1045.1 509.5C1046.8 509.8 1048.4 510.9 1050.2 511.5C1052.0 512.1 1054.1 512.6 1056.1 513.4C1058.1 514.2 1060.0 515.3 1062.0 516.4C1064.0 517.5 1066.2 519.2 1067.9 520.1C1069.6 521.0 1070.8 521.5 1072.3 521.5C1073.8 521.5 1075.2 520.8 1076.7 519.8C1078.2 518.8 1079.8 516.9 1081.1 515.7C1082.4 514.5 1083.7 513.4 1084.8 512.7C1085.9 512.0 1086.6 511.4 1087.5 511.7C1088.4 511.9 1089.2 512.7 1090.0 514.2C1090.8 515.7 1091.3 519.1 1092.3 520.8C1093.3 522.5 1094.6 523.6 1095.9 524.5C1097.2 525.4 1097.5 525.7 1100.0 526.0C1102.5 526.3 1106.5 526.3 1110.7 526.3C1114.9 526.2 1121.6 526.2 1125.0 525.7C1128.4 525.2 1129.4 524.4 1131.2 523.6C1133.0 522.9 1134.2 520.9 1135.7 521.2C1137.2 521.5 1138.8 524.2 1140.4 525.3C1142.0 526.4 1141.9 527.1 1145.5 527.7C1149.1 528.3 1152.4 528.8 1161.9 529.0C1171.5 529.2 1174.9 529.2 1202.8 529.2C1230.7 529.2 1308.2 529.2 1329.3 529.2" stroke="#45A56F"/>
<path d="M144.5 448.9C145.2 450.5 147.2 455.8 148.7 458.3C150.2 460.8 151.8 463.3 153.4 464.1C155.0 464.9 156.4 463.3 158.0 462.9C159.6 462.5 161.3 461.6 162.7 461.8C164.1 462.0 164.6 463.9 166.2 464.1C167.8 464.3 170.3 463.6 172.1 462.9C173.8 462.2 175.3 460.9 176.7 459.9C178.0 458.9 179.0 457.7 180.2 457.1C181.4 456.6 182.5 456.0 183.7 456.6C184.9 457.2 185.8 458.6 187.2 460.6C188.6 462.6 190.3 466.6 191.9 468.8C193.5 471.0 195.2 472.8 196.6 473.9C198.0 474.9 198.7 475.1 200.1 475.1C201.5 475.2 203.1 474.5 204.8 474.2C206.6 473.9 208.8 474.2 210.6 473.5C212.3 472.8 213.7 471.6 215.3 470.0C216.9 468.4 218.4 465.6 220.0 463.6C221.6 461.7 223.0 459.6 224.6 458.3C226.2 457.0 227.9 456.3 229.3 455.9C230.7 455.5 231.4 455.5 232.8 455.9C234.2 456.3 235.9 457.7 237.5 458.3C239.1 458.9 240.5 459.4 242.1 459.4C243.7 459.4 245.2 459.5 246.8 458.3C248.4 457.1 249.9 454.7 251.5 452.4C253.1 450.1 254.8 446.7 256.2 444.3C257.6 441.9 258.5 439.4 259.7 437.9C260.9 436.4 262.2 435.6 263.2 435.5C264.2 435.4 264.7 435.6 265.5 437.2C266.3 438.8 266.7 441.2 267.8 445.4C268.9 449.6 270.6 457.5 272.0 462.2C273.4 466.9 274.8 470.2 276.2 473.5C277.6 476.8 279.0 479.6 280.4 481.9C281.8 484.2 282.5 485.4 284.6 487.2C286.7 488.9 290.2 490.6 293.0 492.4C295.8 494.2 298.7 496.0 301.5 498.0C304.3 500.0 307.1 502.4 309.9 504.3C312.7 506.2 315.7 508.0 318.3 509.2C320.9 510.4 323.2 511.2 325.3 511.3C327.4 511.4 329.0 510.2 330.9 509.6C332.8 509.0 334.8 507.5 336.5 507.4C338.2 507.3 339.5 509.0 341.4 508.8C343.3 508.6 345.2 507.4 347.7 506.4C350.1 505.4 353.5 504.5 356.1 502.9C358.7 501.3 361.2 498.4 363.1 496.6C365.0 494.9 365.9 493.3 367.3 492.4C368.7 491.5 370.2 491.5 371.6 491.4C373.0 491.3 374.4 492.2 375.8 491.7C377.2 491.2 378.7 490.1 380.0 488.2C381.3 486.3 382.4 484.1 383.5 480.5C384.6 476.9 385.5 471.1 386.6 466.4C387.7 461.7 388.9 456.7 390.1 452.4C391.3 448.1 392.5 443.6 393.6 440.7C394.7 437.8 395.6 436.1 396.6 434.9C397.6 433.7 398.3 433.0 399.4 433.3C400.4 433.6 401.5 434.7 402.9 436.5C404.3 438.3 406.0 442.0 407.6 444.3C409.2 446.6 410.6 448.6 412.3 450.1C414.1 451.7 416.0 452.8 418.1 453.6C420.2 454.5 422.8 454.7 425.1 455.2C427.4 455.7 429.8 456.2 432.1 456.6C434.5 457.0 437.2 457.1 439.2 457.6C441.1 458.1 442.2 458.4 443.8 459.4C445.4 460.4 446.9 461.8 448.5 463.6C450.1 465.4 451.6 467.8 453.2 470.0C454.8 472.2 456.3 474.9 457.9 477.0C459.4 479.1 460.6 480.8 462.5 482.8C464.4 484.9 466.8 487.4 469.5 489.3C472.2 491.2 475.4 492.9 478.9 494.5C482.4 496.1 486.7 497.8 490.6 499.2C494.5 500.6 499.0 501.8 502.2 502.7C505.4 503.6 507.0 503.8 510.0 504.9C513.0 505.9 516.7 507.5 520.1 509.0C523.5 510.5 527.4 512.7 530.3 514.1C533.2 515.5 535.4 516.8 537.3 517.6C539.1 518.4 540.2 519.1 541.4 518.9C542.6 518.7 543.5 517.5 544.4 516.6C545.3 515.7 546.2 514.2 547.0 513.5C547.8 512.8 548.3 512.2 549.0 512.5C549.7 512.8 550.3 513.8 551.0 515.1C551.7 516.5 552.2 519.0 553.0 520.6C553.8 522.2 554.5 523.8 555.6 524.7C556.7 525.6 557.1 525.8 559.6 526.2C562.1 526.6 564.1 526.8 570.8 526.9C577.5 527.0 586.8 527.1 600.0 527.1C613.2 527.1 638.8 527.1 650.0 527.1C661.2 527.1 662.8 527.3 667.0 527.4C671.2 527.5 672.8 527.7 675.0 527.9C677.2 528.1 676.5 528.6 680.0 528.7C683.5 528.9 693.2 528.8 695.8 528.8" stroke="#AE7CD6"/>
<path d="M717.7 528.4C720.2 528.2 729.0 527.4 732.4 527.4C735.8 527.3 736.3 527.7 738.3 528.2C740.3 528.7 742.2 530.1 744.2 530.1C746.2 530.1 747.7 528.8 750.1 528.2C752.5 527.6 756.5 526.9 758.9 526.4C761.3 525.9 762.8 525.9 764.8 525.2C766.8 524.5 769.0 522.6 770.7 522.3C772.4 522.0 773.6 522.9 775.1 523.3C776.6 523.7 777.8 524.7 779.5 524.8C781.2 524.9 783.4 524.6 785.4 523.8C787.4 523.0 789.7 522.0 791.3 520.1C792.9 518.2 793.9 515.9 795.0 512.7C796.1 509.5 797.0 503.6 797.9 500.9C798.8 498.1 799.7 496.2 800.6 496.2C801.5 496.2 802.2 498.1 803.1 500.9C804.0 503.6 804.9 509.4 806.0 512.7C807.1 516.0 808.2 518.9 809.7 520.8C811.2 522.7 812.8 523.5 814.9 524.2C817.0 524.9 819.3 525.0 822.2 525.2C825.1 525.4 828.3 525.4 832.5 525.2C836.7 525.0 842.4 524.6 847.3 524.2C852.2 523.8 857.1 523.4 862.0 523.0C866.9 522.6 870.4 522.2 876.7 521.8C883.0 521.4 893.7 521.1 900.0 520.6C906.3 520.1 909.8 519.3 914.7 518.6C919.6 517.9 924.6 517.1 929.5 516.4C934.4 515.7 939.3 515.2 944.2 514.6C949.1 514.0 954.0 513.6 958.9 513.0C963.8 512.4 968.7 511.9 973.6 511.2C978.5 510.5 984.5 509.6 988.4 508.6C992.3 507.6 994.5 506.6 997.2 505.3C999.9 504.0 1002.5 502.2 1004.6 500.9C1006.7 499.6 1008.1 497.8 1009.7 497.7C1011.3 497.6 1012.9 499.6 1014.1 500.2C1015.3 500.8 1016.2 501.2 1017.1 501.2C1018.0 501.2 1018.3 499.9 1019.3 500.2C1020.3 500.4 1021.8 501.9 1023.0 502.7C1024.2 503.5 1025.4 505.3 1026.7 505.1C1028.0 504.9 1029.4 503.5 1031.1 501.7C1032.8 499.9 1035.2 496.3 1037.0 494.3C1038.8 492.3 1040.6 490.8 1042.1 489.9C1043.6 489.0 1044.4 489.0 1045.8 489.1C1047.2 489.2 1048.5 489.4 1050.2 490.6C1051.9 491.8 1054.1 494.4 1056.1 496.5C1058.1 498.6 1060.0 501.1 1062.0 503.1C1064.0 505.1 1066.2 507.5 1067.9 508.6C1069.6 509.7 1071.0 509.8 1072.3 509.8C1073.6 509.8 1074.8 509.5 1076.0 508.6C1077.2 507.7 1078.4 506.2 1079.7 504.6C1081.0 503.0 1082.8 500.1 1084.1 498.7C1085.4 497.3 1086.5 496.4 1087.5 496.5C1088.5 496.6 1089.2 497.4 1090.0 499.5C1090.8 501.6 1091.4 506.1 1092.2 509.0C1093.0 511.9 1093.6 515.0 1094.6 517.0C1095.6 519.0 1096.7 520.1 1098.4 521.2C1100.1 522.3 1102.2 523.1 1104.6 523.6C1107.0 524.1 1109.4 524.1 1112.8 524.2C1116.2 524.3 1122.1 524.7 1125.0 524.2C1127.9 523.7 1128.8 522.6 1130.2 521.2C1131.6 519.9 1132.3 517.2 1133.2 516.1C1134.1 515.0 1134.9 514.3 1135.7 514.6C1136.5 514.9 1137.3 516.5 1138.3 518.1C1139.2 519.7 1140.2 522.6 1141.4 524.2C1142.6 525.8 1142.1 526.8 1145.5 527.7C1148.9 528.6 1155.8 529.2 1161.9 529.8C1168.1 530.3 1173.4 530.7 1182.4 531.0C1191.4 531.3 1209.1 531.3 1216.0 531.5C1222.9 531.7 1212.5 532.2 1224.0 532.4C1235.5 532.6 1267.2 532.6 1284.7 532.7C1302.2 532.8 1321.9 533.0 1329.3 533.0" stroke="#AE7CD6"/>
</g>
<g class="axes">
<line x1="83.3" y1="18" x2="83.3" y2="554.4"/>
<line x1="82.5" y1="553.4" x2="695.5" y2="553.4"/>
<line x1="717.6" y1="553.4" x2="1331.5" y2="553.4"/>
<line x1="685.3" y1="563.3" x2="706.1" y2="542.6"/>
<line x1="707.1" y1="563.3" x2="728.3" y2="542.6"/>
<line x1="73" y1="528.0" x2="83.5" y2="528.0"/><line x1="77.5" y1="464.3" x2="83.5" y2="464.3"/><line x1="73" y1="400.7" x2="83.5" y2="400.7"/><line x1="77.5" y1="337.0" x2="83.5" y2="337.0"/><line x1="73" y1="273.4" x2="83.5" y2="273.4"/><line x1="77.5" y1="209.7" x2="83.5" y2="209.7"/><line x1="73" y1="146.0" x2="83.5" y2="146.0"/><line x1="77.5" y1="82.4" x2="83.5" y2="82.4"/><line x1="73" y1="18.7" x2="83.5" y2="18.7"/><line x1="83.6" y1="553.4" x2="83.6" y2="563"/><line x1="236.1" y1="553.4" x2="236.1" y2="563"/><line x1="389.0" y1="553.4" x2="389.0" y2="563"/><line x1="542.8" y1="553.4" x2="542.8" y2="563"/><line x1="819.4" y1="553.4" x2="819.4" y2="563"/><line x1="947.2" y1="553.4" x2="947.2" y2="563"/><line x1="1075.5" y1="553.4" x2="1075.5" y2="563"/><line x1="1203.0" y1="553.4" x2="1203.0" y2="563"/><line x1="1330.5" y1="553.4" x2="1330.5" y2="563"/>
</g>
<g class="tick"><text x="65.7" y="534.9" text-anchor="end">0.0</text><text x="65.7" y="407.6" text-anchor="end">0.2</text><text x="65.7" y="280.3" text-anchor="end">0.4</text><text x="65.7" y="152.9" text-anchor="end">0.6</text><text x="65.7" y="25.6" text-anchor="end">0.8</text><text x="83.6" y="588" text-anchor="middle">500</text><text x="236.1" y="588" text-anchor="middle">750</text><text x="389.0" y="588" text-anchor="middle">1000</text><text x="542.8" y="588" text-anchor="middle">1250</text><text x="819.4" y="588" text-anchor="middle">3000</text><text x="947.2" y="588" text-anchor="middle">3250</text><text x="1075.5" y="588" text-anchor="middle">3500</text><text x="1203.0" y="588" text-anchor="middle">3750</text><text x="1330.5" y="588" text-anchor="middle">4000</text></g>
<g class="ann">
<text x="168.5" y="108.8">Si–(CH<tspan dy="9" font-size="23">3</tspan><tspan dy="-9">)</tspan><tspan dy="9" font-size="23">2</tspan></text>
<text x="352.5" y="108.8">Si–O–Si</text>
<text x="519.4" y="374.2">Si–CH<tspan dy="9" font-size="23">3</tspan></text>
<text x="1013" y="463.2">–<tspan dx="1">OH</tspan></text>
</g>
<g class="leg"><line x1="1048.7" y1="53.7" x2="1111.5" y2="53.7" stroke="#4d4d4d" stroke-width="1.8"/><text x="1118.5" y="62.7">D<tspan dy="6" font-size="18">1</tspan><tspan dy="-6"> – 1 year</tspan></text><line x1="1048.7" y1="97.8" x2="1111.5" y2="97.8" stroke="#DC4A4A" stroke-width="1.8"/><text x="1118.5" y="106.8">D<tspan dy="6" font-size="18">2</tspan><tspan dy="-6"> – 3.5 years</tspan></text><line x1="1048.7" y1="141.9" x2="1111.5" y2="141.9" stroke="#2A6DCB" stroke-width="1.8"/><text x="1118.5" y="150.9">D<tspan dy="6" font-size="18">3</tspan><tspan dy="-6"> – 6 years</tspan></text><line x1="1048.7" y1="186.3" x2="1111.5" y2="186.3" stroke="#45A56F" stroke-width="1.8"/><text x="1118.5" y="195.3">D<tspan dy="6" font-size="18">4</tspan><tspan dy="-6"> – 8 years</tspan></text><line x1="1048.7" y1="230.5" x2="1111.5" y2="230.5" stroke="#AE7CD6" stroke-width="1.8"/><text x="1118.5" y="239.5">D<tspan dy="6" font-size="18">5</tspan><tspan dy="-6"> – 10 years</tspan></text></g>
<g class="ttl">
<text x="590" y="626.4">Wave number (cm<tspan dx="1.5" dy="-11" font-size="16">−1</tspan><tspan dx="2" dy="11">)</tspan></text>
<text transform="translate(26,350.5) rotate(-90)" letter-spacing="0.2">Absorbance</text>
</g>
</svg>
</body></html>
